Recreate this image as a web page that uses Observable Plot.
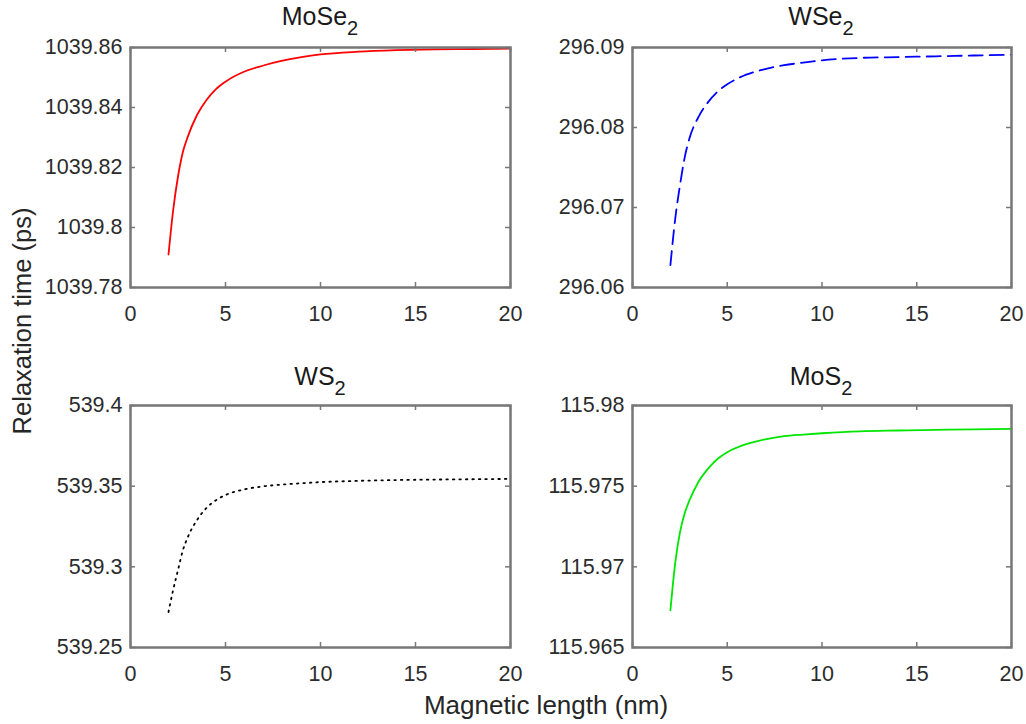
<!DOCTYPE html>
<html>
<head>
<meta charset="utf-8">
<script src="https://cdn.jsdelivr.net/npm/d3@7"></script>
<script src="https://cdn.jsdelivr.net/npm/@observablehq/plot@0.6"></script>
<style>
  body { margin: 0; background: #fff; }
  #fig { position: relative; width: 1026px; height: 724px; background: #fff;
         font-family: "Liberation Sans", Arial, Helvetica, sans-serif; color: #262626; overflow: hidden; }
  .panel { position: absolute; }
  .title { position: absolute; font-size: 25px; line-height: 25px; transform: translateX(-50%); white-space: nowrap; color: #1a1a1a; }
  .title sub { font-size: 20px; vertical-align: -10px; line-height: 0; }
  .ylab { position: absolute; font-size: 25.5px; white-space: nowrap; transform: translate(-50%, -50%) rotate(-90deg); color: #262626; }
  .xlab { position: absolute; font-size: 26px; white-space: nowrap; transform: translate(-50%, -50%); color: #262626; }
</style>
</head>
<body>
<div id="fig"></div>
<script>
// ---- data ----
const magneticLength = [2, 2.25, 2.5, 2.75, 3, 3.5, 4, 4.5, 5, 6, 7, 8, 9, 10, 12, 14, 16, 18, 20];

const tauMoSe2 = [1039.791, 1039.806, 1039.817, 1039.825, 1039.830, 1039.8375, 1039.8425, 1039.8461, 1039.8486,
                  1039.852, 1039.854, 1039.8556, 1039.8568, 1039.8577, 1039.8586, 1039.8591, 1039.8594, 1039.8595, 1039.8596];
const tauWSe2  = [296.0628, 296.0685, 296.0727, 296.0762, 296.0786, 296.0814, 296.0832, 296.0845, 296.0854,
                  296.0866, 296.0873, 296.0878, 296.0881, 296.0884, 296.0887, 296.0888, 296.0889, 296.0890, 296.0891];
const tauWS2   = [539.272, 539.286, 539.298, 539.310, 539.318, 539.329, 539.3365, 539.3413, 539.3445,
                  539.348, 539.3499, 539.351, 539.3518, 539.3525, 539.3533, 539.3538, 539.3541, 539.3543, 539.3545];
const tauMoS2  = [115.9673, 115.9702, 115.9721, 115.9733, 115.9741, 115.9753, 115.9761, 115.9767, 115.9771,
                  115.9776, 115.9779, 115.9781, 115.9782, 115.97828, 115.9784, 115.97845, 115.97849, 115.97852, 115.97855];

const xTicks = [0, 5, 10, 15, 20];
const xTickLabels = ["0", "5", "10", "15", "20"];

const yTicksMoSe2 = [1039.78, 1039.8, 1039.82, 1039.84, 1039.86];
const yLabelsMoSe2 = ["1039.78", "1039.8", "1039.82", "1039.84", "1039.86"];
const yTicksWSe2 = [296.06, 296.07, 296.08, 296.09];
const yLabelsWSe2 = ["296.06", "296.07", "296.08", "296.09"];
const yTicksWS2 = [539.25, 539.3, 539.35, 539.4];
const yLabelsWS2 = ["539.25", "539.3", "539.35", "539.4"];
const yTicksMoS2 = [115.965, 115.97, 115.975, 115.98];
const yLabelsMoS2 = ["115.965", "115.97", "115.975", "115.98"];

const materials = ["MoSe", "WSe", "WS", "MoS"];
const yAxisTitle = "Relaxation time (ps)";
const xAxisTitle = "Magnetic length (nm)";

// ---- layout ----
const fig = document.getElementById("fig");
const FRAME = "#777777";
const TEXT = "#2b2b2b";

function makePanel({values, yTicks, yLabels, stroke, dash, width, height, mL, mR, mT, mB}) {
  const data = magneticLength.map((x, i) => ({x, y: values[i]}));
  const plotW = width - mL - mR;
  const plotH = height - mT - mB;
  const tl = 5;
  return Plot.plot({
    width, height,
    marginLeft: mL, marginRight: mR, marginTop: mT, marginBottom: mB,
    style: {fontSize: "21.5px", fontFamily: "'Liberation Sans', Arial, sans-serif", color: TEXT, overflow: "visible", background: "transparent"},
    x: {domain: [xTicks[0], xTicks[xTicks.length - 1]]},
    y: {domain: [yTicks[0], yTicks[yTicks.length - 1]]},
    marks: [
      Plot.line(data, {x: "x", y: "y", stroke, strokeWidth: 1.8, strokeDasharray: dash, curve: "monotone-x"}),
      // inward ticks (MATLAB style) on all four sides
      Plot.tickX(xTicks, {x: d => d, insetTop: plotH - tl, stroke: FRAME, strokeWidth: 1.5}),
      Plot.tickX(xTicks, {x: d => d, insetBottom: plotH - tl, stroke: FRAME, strokeWidth: 1.5}),
      Plot.tickY(yTicks, {y: d => d, insetRight: plotW - tl, stroke: FRAME, strokeWidth: 1.5}),
      Plot.tickY(yTicks, {y: d => d, insetLeft: plotW - tl, stroke: FRAME, strokeWidth: 1.5}),
      Plot.axisX({ticks: xTicks, tickSize: 0, tickPadding: 18, label: null,
                  tickFormat: d => xTickLabels[xTicks.indexOf(d)], fill: TEXT}),
      Plot.axisY({ticks: yTicks, tickSize: 0, tickPadding: 8, label: null,
                  tickFormat: d => yLabels[yTicks.indexOf(d)], fill: TEXT}),
      Plot.frame({stroke: FRAME, strokeWidth: 2.5})
    ]
  });
}

const panels = [
  {name: materials[0], values: tauMoSe2, yTicks: yTicksMoSe2, yLabels: yLabelsMoSe2, stroke: "#ff0000", dash: null,
   left: 0, top: 0, width: 520, height: 340, mL: 130, mR: 10, mT: 47, mB: 53, titleX: 320, titleTop: 4},
  {name: materials[1], values: tauWSe2, yTicks: yTicksWSe2, yLabels: yLabelsWSe2, stroke: "#0000ff", dash: "14,7",
   left: 520, top: 0, width: 506, height: 340, mL: 112, mR: 15, mT: 47, mB: 53, titleX: 821, titleTop: 4},
  {name: materials[2], values: tauWS2, yTicks: yTicksWS2, yLabels: yLabelsWS2, stroke: "#000000", dash: "1.5,5",
   left: 0, top: 358, width: 520, height: 366, mL: 130, mR: 10, mT: 47, mB: 77, titleX: 320, titleTop: 364},
  {name: materials[3], values: tauMoS2, yTicks: yTicksMoS2, yLabels: yLabelsMoS2, stroke: "#00e600", dash: null,
   left: 520, top: 358, width: 506, height: 366, mL: 112, mR: 15, mT: 47, mB: 77, titleX: 821, titleTop: 364}
];

for (const p of panels) {
  const wrap = document.createElement("div");
  wrap.className = "panel";
  wrap.style.left = p.left + "px";
  wrap.style.top = p.top + "px";
  wrap.appendChild(makePanel(p));
  fig.appendChild(wrap);

  const t = document.createElement("div");
  t.className = "title";
  t.style.left = p.titleX + "px";
  t.style.top = p.titleTop + "px";
  t.innerHTML = p.name + "<sub>2</sub>";
  fig.appendChild(t);
}

const yl = document.createElement("div");
yl.className = "ylab";
yl.style.left = "22px";
yl.style.top = "321px";
yl.textContent = yAxisTitle;
fig.appendChild(yl);

const xl = document.createElement("div");
xl.className = "xlab";
xl.style.left = "546px";
xl.style.top = "705px";
xl.textContent = xAxisTitle;
fig.appendChild(xl);
</script>
</body>
</html>
